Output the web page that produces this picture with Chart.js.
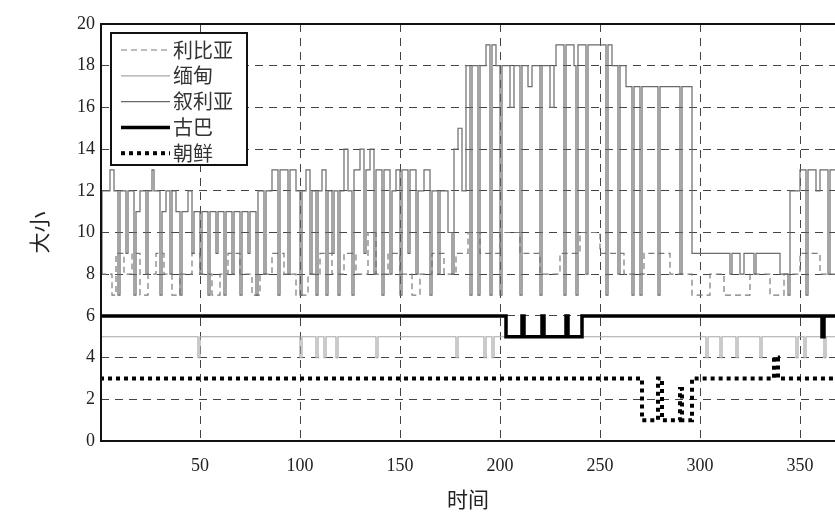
<!DOCTYPE html>
<html lang="zh">
<head>
    <meta charset="UTF-8">
    <title>大小 - 时间</title>
    <script src="https://cdn.jsdelivr.net/npm/chart.js"></script>
    <style>
        body { margin: 0; background: #fff; }
        #wrap { width: 835px; height: 518px; }
    </style>
</head>
<body>
    <div id="wrap"><canvas id="sizeChart"></canvas></div>

    <script>
        // step series: time where the value changes, and the new value
        const seriesNames = ["利比亚", "缅甸", "叙利亚", "古巴", "朝鲜"];
        const xTicks = [50, 100, 150, 200, 250, 300, 350];

        const libyaT = [0, 6, 8, 12, 16, 20, 24, 28, 32, 36, 40, 46, 50, 56, 60, 64, 70, 76, 80, 86, 92, 98, 104, 110, 116, 122, 128, 134, 138, 144, 150, 156, 160, 166, 172, 178, 184, 190, 200, 210, 220, 230, 240, 250, 262, 272, 285, 296, 305, 312, 325, 335, 342, 350, 360, 368];
        const libyaV = [8, 7, 9, 8, 9, 7, 8, 9, 8, 7, 8, 9, 8, 7, 8, 9, 8, 7, 8, 9, 8, 7, 8, 9, 8, 9, 8, 10, 8, 9, 8, 7, 8, 9, 8, 9, 10, 9, 10, 9, 8, 9, 10, 9, 8, 9, 8, 7, 8, 7, 8, 7, 8, 9, 8, 8];

        const myanmarT = [0, 49, 50, 100, 101, 108, 109, 112, 113, 118, 119, 138, 139, 178, 179, 192, 193, 196, 197, 303, 304, 310, 311, 318, 319, 330, 331, 348, 349, 352, 353, 362, 363, 368];
        const myanmarV = [5, 4, 5, 4, 5, 4, 5, 4, 5, 4, 5, 4, 5, 4, 5, 4, 5, 4, 5, 4, 5, 4, 5, 4, 5, 4, 5, 4, 5, 4, 5, 4, 5, 5];

        const syriaT = [0, 1, 5, 7, 9, 10, 13, 14, 17, 18, 20, 23, 24, 26, 27, 30, 31, 33, 35, 36, 38, 40, 41, 44, 46, 47, 50, 51, 54, 55, 58, 59, 62, 63, 66, 67, 70, 71, 74, 75, 78, 79, 82, 83, 86, 89, 90, 94, 95, 98, 100, 101, 103, 105, 106, 108, 109, 111, 113, 114, 116, 117, 119, 120, 122, 124, 126, 127, 130, 132, 133, 135, 137, 138, 141, 142, 145, 146, 148, 150, 151, 154, 155, 158, 159, 162, 165, 166, 169, 170, 174, 176, 177, 179, 181, 183, 185, 186, 189, 190, 193, 195, 196, 198, 200, 201, 205, 207, 210, 211, 214, 216, 220, 221, 225, 227, 228, 232, 233, 237, 238, 239, 243, 244, 253, 254, 256, 259, 260, 263, 266, 267, 270, 271, 279, 280, 290, 291, 296, 315, 316, 320, 322, 327, 328, 340, 344, 345, 350, 353, 354, 358, 360, 364, 365, 368];
        const syriaV = [8, 12, 13, 12, 7, 12, 9, 12, 7, 11, 12, 8, 12, 13, 12, 7, 11, 12, 8, 12, 11, 7, 11, 12, 9, 11, 8, 11, 7, 11, 9, 11, 7, 11, 8, 11, 7, 11, 9, 11, 7, 12, 8, 12, 13, 7, 13, 8, 13, 12, 7, 12, 13, 8, 12, 7, 12, 13, 7, 12, 9, 12, 7, 12, 14, 12, 7, 13, 14, 9, 13, 14, 8, 13, 7, 13, 8, 12, 13, 7, 13, 9, 13, 8, 12, 13, 7, 12, 8, 12, 10, 8, 14, 15, 12, 18, 7, 18, 7, 18, 19, 7, 19, 18, 7, 18, 16, 18, 7, 18, 17, 18, 7, 18, 16, 18, 19, 7, 19, 18, 7, 19, 8, 19, 7, 19, 18, 8, 18, 17, 7, 17, 7, 17, 7, 17, 8, 17, 9, 8, 9, 8, 9, 8, 9, 8, 7, 12, 13, 7, 13, 12, 13, 8, 13, 13];

        const cubaT = [0, 203, 211, 212, 221, 222, 233, 234, 241, 361, 362, 368];
        const cubaV = [6, 5, 6, 5, 6, 5, 6, 5, 6, 5, 6, 6];

        const koreaT = [0, 271, 279, 281, 290, 291, 296, 337, 339, 368];
        const koreaV = [3, 1, 3, 1, 2.5, 1, 3, 4, 3, 3];

        function pts(ts, vs) {
            return ts.map((t, i) => ({ x: t, y: vs[i] }));
        }

        const serif = '"Liberation Serif", "DejaVu Serif", serif';
        const cjk = '"Noto Sans CJK SC", sans-serif';

        // plot frame (top, left, bottom), like the matplotlib box
        const frame = {
            id: 'frame',
            afterDatasetsDraw(chart) {
                const { ctx, chartArea: a } = chart;
                ctx.save();
                ctx.strokeStyle = '#111';
                ctx.lineWidth = 2;
                ctx.beginPath();
                ctx.moveTo(a.right + 2, a.top);
                ctx.lineTo(a.left, a.top);
                ctx.lineTo(a.left, a.bottom);
                ctx.lineTo(a.right + 2, a.bottom);
                ctx.stroke();
                ctx.restore();
            }
        };

        // legend box inside the plot, upper left
        const legendBox = {
            id: 'legendBox',
            afterDraw(chart) {
                const ctx = chart.ctx;
                ctx.save();
                ctx.fillStyle = '#fff';
                ctx.fillRect(111, 33, 136, 132);
                ctx.strokeStyle = '#111';
                ctx.lineWidth = 2;
                ctx.strokeRect(111, 33, 136, 132);
                ctx.font = '20px ' + cjk;
                ctx.textBaseline = 'middle';
                chart.data.datasets.forEach((ds, i) => {
                    const y = 50 + i * 25.8;
                    ctx.strokeStyle = ds.borderColor;
                    ctx.lineWidth = ds.borderWidth;
                    ctx.setLineDash(ds.borderDash || []);
                    ctx.beginPath();
                    ctx.moveTo(121, y);
                    ctx.lineTo(170, y);
                    ctx.stroke();
                    ctx.setLineDash([]);
                    ctx.fillStyle = '#333';
                    ctx.fillText(ds.label, 173, y);
                });
                ctx.restore();
            }
        };

        const common = { pointRadius: 0, stepped: true, fill: false };

        new Chart(document.getElementById("sizeChart"), {
            type: "line",
            data: {
                datasets: [
                    { ...common, label: seriesNames[0], data: pts(libyaT, libyaV), borderColor: "#7a7a7a", borderWidth: 1.2, borderDash: [6, 4], order: 4 },
                    { ...common, label: seriesNames[1], data: pts(myanmarT, myanmarV), borderColor: "#a8a8a8", borderWidth: 1.2, order: 3 },
                    { ...common, label: seriesNames[2], data: pts(syriaT, syriaV), borderColor: "#6a6a6a", borderWidth: 1.2, order: 2 },
                    { ...common, label: seriesNames[3], data: pts(cubaT, cubaV), borderColor: "#000", borderWidth: 3.5, order: 1 },
                    { ...common, label: seriesNames[4], data: pts(koreaT, koreaV), borderColor: "#000", borderWidth: 4, borderDash: [4, 4], order: 0 }
                ]
            },
            options: {
                responsive: true,
                maintainAspectRatio: false,
                animation: false,
                layout: { padding: { top: 24, left: 0, right: 0, bottom: 0 } },
                plugins: { legend: { display: false }, tooltip: { enabled: false } },
                scales: {
                    x: {
                        type: "linear",
                        min: 0.5,
                        max: 367.5,
                        afterBuildTicks: s => { s.ticks = xTicks.map(v => ({ value: v })); },
                        afterFit: s => { s.height = 77; },
                        border: { display: false, dash: [8, 6] },
                        grid: { color: "#444", lineWidth: 1, drawTicks: false },
                        ticks: { font: { family: serif, size: 18 }, color: "#222", padding: 14, maxRotation: 0 },
                        title: { display: true, text: "时间", font: { family: cjk, size: 21 }, color: "#222", padding: { top: 1, bottom: 6 } }
                    },
                    y: {
                        min: 0,
                        max: 20,
                        afterFit: s => { s.width = 101; },
                        border: { display: false, dash: [8, 6] },
                        grid: { color: "#444", lineWidth: 1, drawTicks: false },
                        ticks: { stepSize: 2, font: { family: serif, size: 18 }, color: "#222", padding: 6 },
                        title: { display: true, text: "大小", font: { family: cjk, size: 21 }, color: "#222", padding: { top: 26, bottom: 0 } }
                    }
                }
            },
            plugins: [frame, legendBox]
        });
    </script>
</body>
</html>
